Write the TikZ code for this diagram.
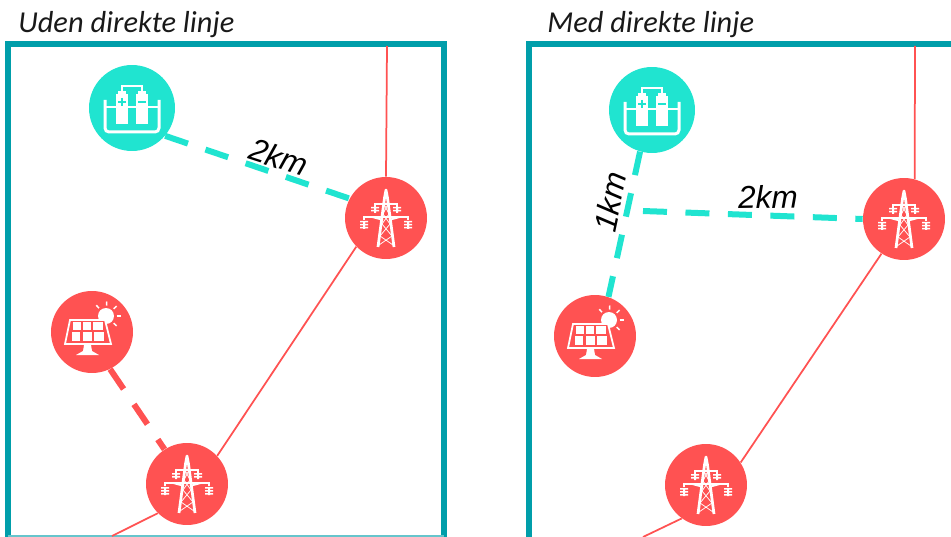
\documentclass[tikz,border=0pt]{standalone}
\usepackage{fontspec}
\setmainfont{Carlito}
\newfontfamily\kmfont{Liberation Sans}
\usetikzlibrary{positioning}
\definecolor{framecol}{RGB}{0,158,170}
\definecolor{tealcol}{RGB}{32,228,208}
\definecolor{redcol}{RGB}{255,82,82}
\tikzset{
	x=0.02cm, y=-0.02cm,
	station/.style={circle, fill=redcol, minimum size=1.64cm, inner sep=0pt},
	storage/.style={circle, fill=tealcol, minimum size=1.72cm, inner sep=0pt},
	frame/.style={draw=framecol, line width=0.11cm},
	grid/.style={draw=redcol, line width=0.035cm},
	tealdash/.style={draw=tealcol, line width=0.12cm, dash pattern=on 0.48cm off 0.37cm},
	reddash/.style={draw=redcol, line width=0.12cm, dash pattern=on 0.48cm off 0.37cm},
	heading/.style={font=\itshape\fontsize{17.3pt}{17.3pt}\selectfont, text=black!90, anchor=base west, inner sep=0pt},
	dist/.style={font=\kmfont\itshape\fontsize{18pt}{18pt}\selectfont},
	icon/.style={draw=white, line width=0.04cm},
	pylon/.pic={
		\draw[icon, line width=0.055cm, line join=round] (-8,29) -- (-1.5,-20) -- (0,-28) -- (1.5,-20) -- (8,29);
		\draw[icon, line width=0.015cm] (-2,-14) -- (3,-4) -- (-4,6) -- (6,18) -- (-7,27) (2,-14) -- (-3,-4) -- (4,6) -- (-6,18) -- (7,27);
		\draw[icon, line width=0.035cm] (-11,-11) -- (-11,-14) -- (11,-14) -- (11,-11) (-22,2) -- (-22,-1) -- (22,-1) -- (22,2) (-3,2) -- (-14,-1) (3,2) -- (14,-1);
		\foreach \px in {-11,11}{
			\fill[white] (\px-4,-11) rectangle (\px+4,-9.5) (\px-4,-8) rectangle (\px+4,-6.5) (\px-1,-11) rectangle (\px+1,-5);
		}
		\foreach \px in {-22,22}{
			\fill[white] (\px-4,3) rectangle (\px+4,4.5) (\px-4,6) rectangle (\px+4,7.5) (\px-4,9) rectangle (\px+4,10.5) (\px-1,3) rectangle (\px+1,11);
		}
	},
	cells/.pic={
		\draw[icon, line width=0.06cm, rounded corners=0.08cm] (-27,-8) -- (-27,24) -- (27,24) -- (27,-8);
		\draw[icon, line width=0.025cm] (-27,-1) -- (27,-1);
		\draw[icon, line width=0.025cm] (-10,-16) -- (-10,-22) -- (10,-22) -- (10,-16);
		\foreach \cx in {-10,10}{
			\fill[white] (\cx-6,-14) rectangle (\cx+6,16);
			\fill[white] (\cx-4,-17) rectangle (\cx+4,-14);
		}
		\draw[tealcol, line width=0.025cm] (-14,-6) -- (-6,-6) (-10,-10) -- (-10,-2) (6,-6) -- (14,-6);
	},
	solar/.pic={
		\fill[white] (14,-16) circle (8);
		\foreach \ang in {-132,-87,-43,0,43}{
			\draw[icon, line width=0.03cm] (14,-16) ++(\ang:10.5) -- ++(\ang:4);
		}
		\draw[icon, line width=0.035cm, fill=redcol] (-22,-12) -- (13,-12) -- (19,12) -- (-27,12) -- cycle;
		\foreach \gx/\gw in {-19/8, -9/8, 1/10}{
			\fill[white] (\gx,-10) rectangle (\gx+\gw,-2);
		}
		\foreach \gx/\gw in {-20/8, -9/9, 2/10}{
			\fill[white] (\gx,0) rectangle (\gx+\gw,9);
		}
		\fill[white] (-8,13) -- (-1,13) -- (0,19) -- (7,23) -- (-16,23) -- (-9,19) -- cycle;
	},
}
\begin{document}
\begin{tikzpicture}
	\useasboundingbox (0,0) rectangle (951,537);
	% left panel
	\node[heading] at (18,33) {Uden direkte linje};
	\draw[frame] (8,537) |- (444,44) -- (444,537);
	\draw[framecol!60, line width=0.03cm] (8,536) -- (444,536);
	\node[storage] (bat1) at (132,108) {};
	\node[station] (mast1) at (386,218) {};
	\node[station] (sol1) at (92,332) {};
	\node[station] (mast2) at (187,484) {};
	\coordinate (top1) at (387,46);
	\coordinate (end1) at (112,536);
	\draw[grid] (top1) -- (mast1.north);
	\draw[grid] (mast1.224) -- (mast2.43);
	\draw[grid] (mast2.225) -- (end1);
	\draw[tealdash] (bat1.-40) -- (mast1.152);
	\draw[reddash] (sol1.-64) -- (mast2.123);
	\node[dist, rotate=-18] at (279,157) {2km};
	\pic at (bat1) {cells};
	\pic at (mast1) {pylon};
	\pic at (sol1) {solar};
	\pic at (mast2) {pylon};
	% right panel
	\node[heading] at (547,33) {Med direkte linje};
	\draw[frame] (529,537) |- (951,44);
	\node[storage] (bat2) at (652,110) {};
	\node[station] (mast3) at (904,219) {};
	\node[station] (sol2) at (595,336) {};
	\node[station] (mast4) at (706,485) {};
	\coordinate (top2) at (915,46);
	\coordinate (end2) at (643,537);
	\coordinate (join) at (643,211);
	\draw[grid] (top2) -- (mast3.75);
	\draw[grid] (mast3.237) -- (mast4.33);
	\draw[grid] (mast4.234) -- (end2);
	\draw[tealdash] (bat2.-106) -- (sol2.71);
	\draw[tealdash] (join) -- (mast3.west);
	\node[dist, rotate=78] at (610,202) {1km};
	\node[dist, rotate=1] at (768,197) {2km};
	\pic at (bat2) {cells};
	\pic at (mast3) {pylon};
	\pic at (sol2) {solar};
	\pic at (mast4) {pylon};
\end{tikzpicture}
\end{document}
